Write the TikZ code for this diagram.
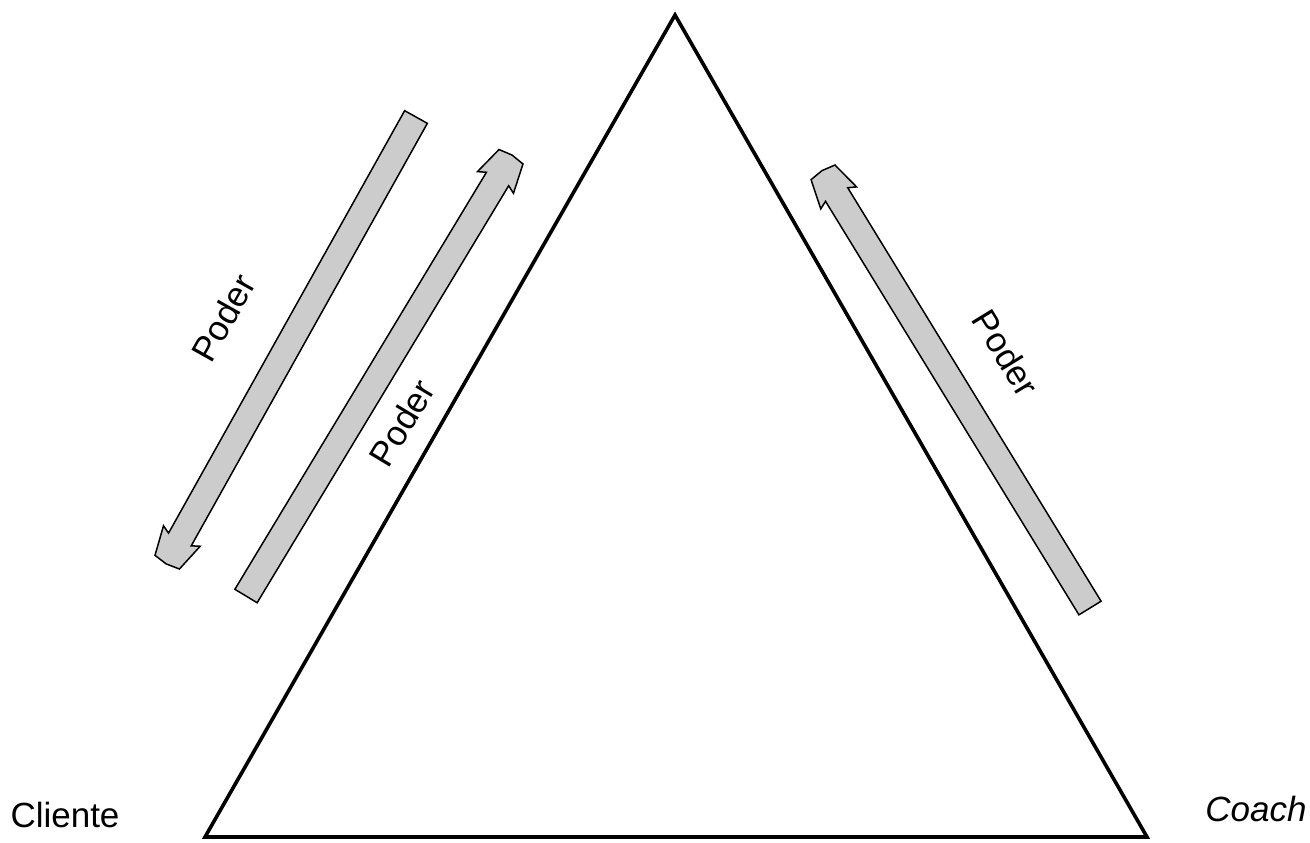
\documentclass[tikz,border=0pt]{standalone}
\usepackage{fontspec}
\setmainfont{Liberation Sans}
\definecolor{arrowgray}{RGB}{204,204,204}
\tikzset{
  poderarrow/.style={fill=arrowgray, draw=black, line width=0.75pt, line join=miter},
  poderlabel/.style={font=\fontsize{17.5}{21}\selectfont, inner sep=0pt},
  cornerlabel/.style={font=\fontsize{17.5}{21}\selectfont, inner sep=0pt}
}
\begin{document}
\begin{tikzpicture}[x=0.5pt, y=-0.5pt]
  \useasboundingbox (0,0) rectangle (1310,842);
  % triangle corners
  \coordinate (top) at (675,15);
  \coordinate (cli) at (205,837);
  \coordinate (coa) at (1147,837);
  \draw[line width=1.8pt, line join=miter] (top) -- (cli) -- (coa) -- cycle;

  \node[cornerlabel] (cliente) at (65,815) {Cliente};
  \node[cornerlabel] (coach) at (1256,809) {\itshape Coach};

  % arrow from coach to cliente (down-left)
  \begin{scope}[shift={(416,117)}, rotate=-119.2]
    \draw[poderarrow] (0,-13) -- (484,-13) -- (480,-21) -- (510,-14) -- (512,0)
      -- (510,14) -- (480,21) -- (484,13) -- (0,13) -- cycle;
  \end{scope}
  % arrow from cliente to coach (up-right)
  \begin{scope}[shift={(246,596)}, rotate=58.9]
    \draw[poderarrow] (0,-13) -- (487,-13) -- (483,-21) -- (513,-14) -- (515,0)
      -- (513,14) -- (483,21) -- (487,13) -- (0,13) -- cycle;
  \end{scope}
  % arrow on the coach side (up-left)
  \begin{scope}[shift={(1090,608)}, rotate=121.5]
    \draw[poderarrow] (0,-13) -- (485,-13) -- (481,-21) -- (511,-14) -- (513,0)
      -- (511,14) -- (481,21) -- (485,13) -- (0,13) -- cycle;
  \end{scope}

  \node[poderlabel, rotate=60.7] (poder1) at (223,318) {Poder};
  \node[poderlabel, rotate=59] (poder2) at (402,423) {Poder};
  \node[poderlabel, rotate=-58.5] (poder3) at (1006,353) {Poder};
\end{tikzpicture}
\end{document}
